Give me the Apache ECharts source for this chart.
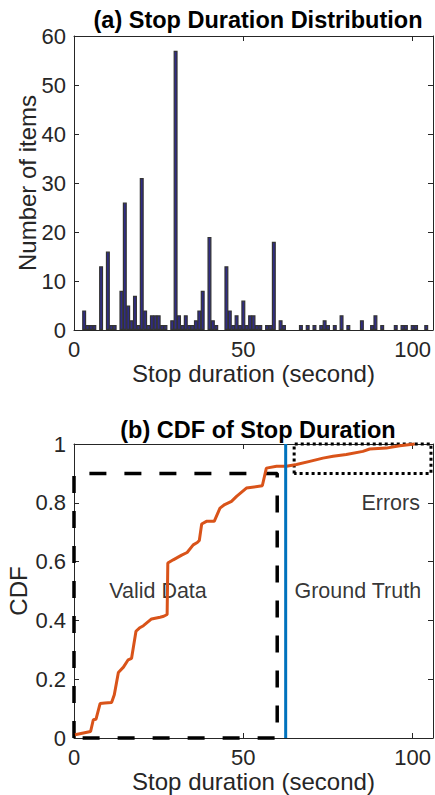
<!DOCTYPE html>
<html>
<head>
<meta charset="utf-8">
<script src="https://cdn.jsdelivr.net/npm/echarts@6/dist/echarts.min.js"></script>
<style>
html,body{margin:0;padding:0;background:#fff;}
#chart{width:435px;height:795px;}
</style>
</head>
<body>
<div id="chart"></div>
<script>
// ---- (a) histogram data ----
const durations = [3,4,5,6,8,10,11,12,14,15,16,17,18,19,20,21,22,23,24,25,26,27,29,30,31,32,33,34,35,36,37,38,40,41,42,45,46,47,48,49,50,51,52,53,54,55,57,58,59,61,62,67,69,71,73,74,75,77,79,81,85,88,89,91,95,97,98,100,101,104];
const counts = [4,1,1,1,13,16,1,1,8,26,5,2,7,1,31,4,1,3,3,3,1,1,2,57,3,1,3,1,1,2,4,8,19,2,1,13,4,1,3,1,6,1,3,3,1,1,1,1,18,2,1,1,1,1,1,2,1,1,3,1,2,1,3,1,1,1,1,1,1,1];

// ---- (b) CDF data ----
const cdfDuration = [0.3,4.9,5.7,6.5,7.7,9.1,11.1,11.9,13.1,14.6,16.0,17.0,18.3,19.3,20.5,22.9,25.4,26.5,27.5,27.7,29.3,31.8,33.4,35.2,36.4,37.0,37.7,39.1,41.4,43.1,44.5,46.5,48.0,50.9,55.6,56.8,59.8,62.7,65.7,69.6,73.5,76.5,80.4,85.3,87.3,92.2,96.2,100.6];
const cdfValue = [0.011,0.022,0.062,0.064,0.117,0.119,0.121,0.147,0.223,0.241,0.266,0.271,0.363,0.374,0.382,0.405,0.411,0.414,0.420,0.595,0.606,0.622,0.631,0.657,0.665,0.672,0.728,0.737,0.737,0.782,0.794,0.805,0.822,0.850,0.858,0.918,0.924,0.924,0.930,0.941,0.952,0.958,0.964,0.975,0.983,0.986,0.994,1.0];

// annotation regions (data units)
const validMaxDuration = 60;
const validMaxCdf = 0.9;
const groundTruthDuration = 62.5;
const errorsDuration = [65, 105.4];
const errorsCdf = [0.9, 1.0];

// annotation texts and anchors (data units)
const annotationNames = ['Valid Data', 'Ground Truth', 'Errors'];
const annotationX = [24.8, 83.8, 93.5];
const annotationY = [0.5, 0.5, 0.8];

// axis ticks
const xMax = 106;
const xTickStep = 50;
const histYMax = 60, histYStep = 10;
const cdfYMax = 1, cdfYStep = 0.2;

const FONT = "'Liberation Sans', Arial, Helvetica, sans-serif";
const AX = '#262626';

function xAxisPair(gridIndex) {
  const base = {
    gridIndex, type: 'value', min: 0, max: xMax, interval: xTickStep,
    splitLine: {show: false},
    axisLine: {show: true, onZero: false, lineStyle: {color: AX, width: 1}},
    axisTick: {show: true, inside: true, length: 5, lineStyle: {color: AX}}
  };
  return [
    Object.assign({}, base, {
      position: 'bottom',
      name: 'Stop duration (second)', nameLocation: 'middle', nameGap: 31, nameMoveOverlap: false,
      nameTextStyle: {fontFamily: FONT, fontSize: 24, color: AX},
      axisLabel: {show: true, margin: 8, fontFamily: FONT, fontSize: 22, color: AX,
        showMaxLabel: false,
        formatter: v => (v % xTickStep === 0 ? String(v) : '')}
    }),
    Object.assign({}, base, {position: 'top', axisLabel: {show: false}})
  ];
}
function yAxisPair(gridIndex, max, step, name, gap) {
  const base = {
    gridIndex, type: 'value', min: 0, max: max, interval: step,
    splitLine: {show: false},
    axisLine: {show: true, onZero: false, lineStyle: {color: AX, width: 1}},
    axisTick: {show: true, inside: true, length: 5, lineStyle: {color: AX}}
  };
  return [
    Object.assign({}, base, {
      position: 'left', name: name, nameLocation: 'middle', nameGap: gap, nameMoveOverlap: false,
      nameTextStyle: {fontFamily: FONT, fontSize: 24, color: AX},
      axisLabel: {show: true, margin: 8, fontFamily: FONT, fontSize: 22, color: AX}
    }),
    Object.assign({}, base, {position: 'right', axisLabel: {show: false}})
  ];
}

const histData = durations.map((d, i) => [d, counts[i]]);
const cdfData = cdfDuration.map((d, i) => [d, cdfValue[i]]);
const validBox = [[0,0],[0,validMaxCdf],[validMaxDuration,validMaxCdf],[validMaxDuration,0],[0,0]];
const errorsBox = [[errorsDuration[0],errorsCdf[0]],[errorsDuration[0],errorsCdf[1]],[errorsDuration[1],errorsCdf[1]],[errorsDuration[1],errorsCdf[0]],[errorsDuration[0],errorsCdf[0]]];
const gtLine = [[groundTruthDuration,0],[groundTruthDuration,cdfYMax]];
const annotations = annotationNames.map((n, i) => ({name: n, value: [annotationX[i], annotationY[i]]}));

const option = {
  animation: false,
  backgroundColor: '#fff',
  title: [
    {text: '(a) Stop Duration Distribution', left: 253, textAlign: 'center', top: 3,
     textStyle: {fontFamily: FONT, fontSize: 23.5, fontWeight: 'bold', color: '#000'}},
    {text: '(b) CDF of Stop Duration', left: 253, textAlign: 'center', top: 413,
     textStyle: {fontFamily: FONT, fontSize: 23.5, fontWeight: 'bold', color: '#000'}}
  ],
  grid: [
    {left: 74, top: 36, width: 359, height: 294, containLabel: false, outerBoundsMode: 'none'},
    {left: 74, top: 444, width: 359, height: 294, containLabel: false, outerBoundsMode: 'none'}
  ],
  xAxis: [...xAxisPair(0), ...xAxisPair(1)],
  yAxis: [
    ...yAxisPair(0, histYMax, histYStep, 'Number of items', 35),
    ...yAxisPair(1, cdfYMax, cdfYStep, 'CDF', 44)
  ],
  series: [
    {type: 'bar', xAxisIndex: 0, yAxisIndex: 0, data: histData, barWidth: 4,
     itemStyle: {color: '#302c86', borderColor: '#333333', borderWidth: 1.2}},
    {type: 'scatter', xAxisIndex: 2, yAxisIndex: 2, data: annotations, symbolSize: 0, z: 1,
     label: {show: true, position: 'inside', formatter: '{b}', fontFamily: FONT, fontSize: 21.5, color: '#000'}},
    {type: 'line', xAxisIndex: 2, yAxisIndex: 2, data: validBox, showSymbol: false, clip: false, z: 3,
     lineStyle: {color: '#000', width: 3.5, type: [17, 18], cap: 'butt'}},
    {type: 'line', xAxisIndex: 2, yAxisIndex: 2, data: errorsBox, showSymbol: false, clip: false, z: 3,
     lineStyle: {color: '#000', width: 3, type: [3, 3], cap: 'butt'}},
    {type: 'line', xAxisIndex: 2, yAxisIndex: 2, data: cdfData, showSymbol: false, clip: false, z: 4,
     lineStyle: {color: '#D95319', width: 3}},
    {type: 'line', xAxisIndex: 2, yAxisIndex: 2, data: gtLine, showSymbol: false, clip: false, z: 5,
     lineStyle: {color: '#0072BD', width: 3}}
  ]
};

const chart = echarts.init(document.getElementById('chart'), null, {renderer: 'svg'});
chart.setOption(option);
</script>
</body>
</html>
